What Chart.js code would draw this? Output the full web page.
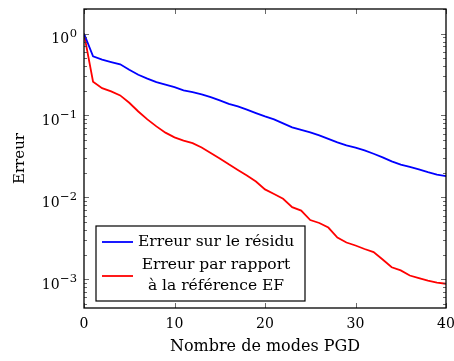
<!DOCTYPE html>
<html>
<head>
<meta charset="utf-8">
<script src="https://cdn.jsdelivr.net/npm/chart.js@4"></script>
<style>
html,body{margin:0;padding:0;background:#fff;}
#wrap{width:454px;height:361px;}
</style>
</head>
<body>
<div id="wrap"><canvas id="c" width="454" height="361"></canvas></div>
<script>
const modes = Array.from({length: 41}, (_, i) => i);
const residuError = [1.0, 0.528, 0.481, 0.450, 0.422, 0.363, 0.315, 0.282, 0.256, 0.238,
  0.222, 0.203, 0.193, 0.181, 0.168, 0.153, 0.139, 0.129, 0.118, 0.107,
  0.0975, 0.0896, 0.080, 0.0715, 0.0667, 0.0621, 0.0571, 0.0518, 0.0469, 0.0431,
  0.0404, 0.0375, 0.0341, 0.0308, 0.0275, 0.0251, 0.0235, 0.0219, 0.0203, 0.019, 0.0182];
const referenceError = [1.0, 0.259, 0.216, 0.197, 0.176, 0.143, 0.112, 0.0896, 0.0736, 0.0617,
  0.054, 0.0492, 0.046, 0.0407, 0.0349, 0.0299, 0.0253, 0.0216, 0.0185, 0.0156,
  0.0125, 0.011, 0.0096, 0.0076, 0.0069, 0.00528, 0.00486, 0.00428, 0.00323, 0.00281,
  0.00258, 0.00234, 0.00214, 0.00174, 0.0014, 0.00128, 0.00111, 0.00103, 0.00096, 0.00091, 0.00088];
const xTicks = [0, 10, 20, 30, 40];
const yTicks = [1e-3, 1e-2, 1e-1, 1];
const yTickBase = '10';
const yTickExponents = ['\u22123', '\u22122', '\u22121', '0'];
const seriesLabels = ['Erreur sur le résidu', 'Erreur par rapport à la référence EF'];
const legendLines = [['Erreur sur le résidu'], ['Erreur par rapport', 'à la référence EF']];
const xTitle = 'Nombre de modes PGD';
const yTitle = 'Erreur';

const FONT = "'DejaVu Serif', 'Liberation Serif', serif";

const framePlugin = {
  id: 'frame',
  afterDatasetsDraw(chart) {
    const ctx = chart.ctx;
    const a = chart.chartArea;
    const xs = chart.scales.x, ys = chart.scales.y;
    ctx.save();
    ctx.strokeStyle = '#444';
    ctx.lineWidth = 0.8;
    ctx.beginPath();
    xTicks.forEach(v => {
      const px = Math.round(xs.getPixelForValue(v)) + 0.5;
      ctx.moveTo(px, a.bottom); ctx.lineTo(px, a.bottom - 5);
      ctx.moveTo(px, a.top); ctx.lineTo(px, a.top + 5);
    });
    const lo = Math.floor(Math.log10(ys.min)), hi = Math.ceil(Math.log10(ys.max));
    for (let e = lo; e <= hi; e++) {
      for (let m = 1; m <= 9; m++) {
        const v = m * Math.pow(10, e);
        if (v < ys.min || v > ys.max) continue;
        const py = Math.round(ys.getPixelForValue(v)) + 0.5;
        const len = m === 1 ? 5 : 3;
        ctx.moveTo(a.left, py); ctx.lineTo(a.left + len, py);
        ctx.moveTo(a.right, py); ctx.lineTo(a.right - len, py);
      }
    }
    ctx.stroke();
    ctx.strokeStyle = '#000';
    ctx.lineWidth = 1.3;
    ctx.strokeRect(a.left, a.top, a.right - a.left, a.bottom - a.top);

    // y tick labels 10^k
    ctx.fillStyle = '#000';
    ctx.textBaseline = 'alphabetic';
    ctx.textAlign = 'left';
    yTicks.forEach((v, i) => {
      const py = ys.getPixelForValue(v);
      ctx.font = '11.5px ' + FONT;
      const ew = ctx.measureText(yTickExponents[i]).width;
      ctx.font = '14px ' + FONT;
      const bw = ctx.measureText(yTickBase).width;
      const right = a.left - 7;
      const x0 = right - ew - bw - 0.5;
      ctx.fillText(yTickBase, x0, py + 9.5);
      ctx.font = '11.5px ' + FONT;
      ctx.fillText(yTickExponents[i], x0 + bw + 0.5, py + 3);
    });

    // legend
    const bx = 96, by = 226, bw = 209, bh = 75;
    ctx.fillStyle = '#fff';
    ctx.fillRect(bx, by, bw, bh);
    ctx.lineWidth = 1.2;
    ctx.strokeRect(bx, by, bw, bh);
    const ds = chart.data.datasets;
    ctx.font = '15.5px ' + FONT;
    ctx.fillStyle = '#000';
    ctx.textBaseline = 'middle';
    ctx.strokeStyle = ds[0].borderColor; ctx.lineWidth = 1.8;
    ctx.beginPath(); ctx.moveTo(102, 242); ctx.lineTo(133, 242); ctx.stroke();
    ctx.textAlign = 'left';
    ctx.fillText(legendLines[0][0], 138, 242);
    ctx.strokeStyle = ds[1].borderColor;
    ctx.beginPath(); ctx.moveTo(102, 276); ctx.lineTo(133, 276); ctx.stroke();
    ctx.textAlign = 'center';
    ctx.fillText(legendLines[1][0], 216, 265);
    ctx.fillText(legendLines[1][1], 216, 286);
    ctx.restore();
  }
};

new Chart(document.getElementById('c'), {
  type: 'line',
  data: {
    labels: modes,
    datasets: [
      { label: seriesLabels[0], data: residuError, borderColor: '#0000ff', borderWidth: 1.8,
        pointRadius: 0, tension: 0, fill: false },
      { label: seriesLabels[1], data: referenceError, borderColor: '#ff0000', borderWidth: 1.8,
        pointRadius: 0, tension: 0, fill: false }
    ]
  },
  options: {
    responsive: false,
    animation: false,
    devicePixelRatio: 1,
    layout: { padding: { left: 0, right: 8, top: 9, bottom: 0 } },
    plugins: { legend: { display: false }, tooltip: { enabled: false } },
    scales: {
      x: {
        type: 'linear', min: 0, max: 40,
        afterBuildTicks: s => { s.ticks = xTicks.map(v => ({ value: v })); },
        afterFit: s => { s.height = 53; s.paddingLeft = 0; s.paddingRight = 0; },
        grid: { display: false },
        border: { display: false },
        ticks: { color: '#000', font: { family: FONT, size: 14 }, padding: 0, maxRotation: 0 },
        title: { display: true, text: xTitle, color: '#000', font: { family: FONT, size: 16 },
                 padding: { top: 0, bottom: 5 } }
      },
      y: {
        type: 'logarithmic', min: 4.45e-4, max: 2.0,
        afterBuildTicks: s => { s.ticks = yTicks.map(v => ({ value: v })); },
        afterFit: s => { s.width = 84; s.paddingTop = 0; s.paddingBottom = 0; },
        grid: { display: false },
        border: { display: false },
        ticks: { display: false },
        title: { display: true, text: yTitle, color: '#000', font: { family: FONT, size: 15 },
                 padding: { top: 11, bottom: 0 } }
      }
    }
  },
  plugins: [framePlugin]
});
</script>
</body>
</html>
